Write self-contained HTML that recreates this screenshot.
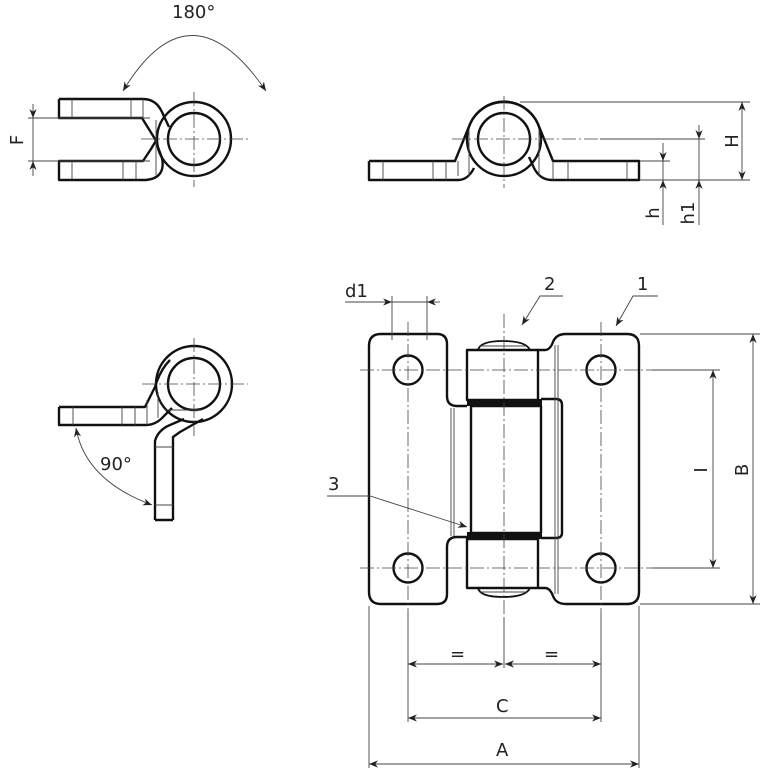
<!DOCTYPE html>
<html><head><meta charset="utf-8"><style>
html,body{margin:0;padding:0;background:#fff}
svg{display:block}
text{font-family:"DejaVu Sans","Liberation Sans",sans-serif;fill:#222}
</style></head><body>
<svg width="768" height="768" viewBox="0 0 768 768" xmlns="http://www.w3.org/2000/svg">
<defs>
<marker id="ar" viewBox="0 0 10 10" refX="10" refY="5" markerWidth="9" markerHeight="9" orient="auto-start-reverse" markerUnits="userSpaceOnUse"><path d="M0,1 L10,5 L0,9 L3,5 Z" fill="#222"/></marker>
</defs>
<g fill="none" stroke="#111" stroke-width="2.4" stroke-linejoin="round">
<!-- TOP LEFT VIEW -->
<path d="M59,99 H143 Q156,99 162,112 L169,127"/>
<path d="M59,99 V118 H142 L155,139 L162,158 Q166,178 146,180 H59 V161 H143 L151,149 L157,139"/>
<circle cx="194" cy="139" r="37"/>
<circle cx="194" cy="139" r="26"/>
<!-- TOP RIGHT VIEW -->
<path d="M369,161 H455 L470,124 A37,37 0 0 1 538,124 L553,161 H639 V180 H552 Q540,180 534,168 L529,157"/>
<path d="M369,161 V180 H458 Q468,180 474,168"/>
<circle cx="504" cy="139" r="37"/>
<circle cx="504" cy="139" r="26"/>
<!-- BOTTOM LEFT VIEW -->
<path d="M59,407 H145 L155,387 Q160,370 170,360"/>
<path d="M59,407 V425 H146 Q156,425 164,416 L172,408"/>
<path d="M155,520 V441 Q158,430 170,425 L184,419 M173,520 V437 L180,432 L203,419 M155,520 H173"/>
<circle cx="194" cy="384" r="38"/>
<circle cx="194" cy="384" r="26"/>
<!-- MAIN VIEW -->
<path d="M467,537 H457 Q447,537 447,547 V594 Q447,604 437,604 H381 Q369,604 369,592 V346 Q369,334 381,334 H437 Q447,334 447,344 V396 Q447,406 457,406 H467"/>
<path d="M538,350 H545 Q550,350 553,342 Q556,334 566,334 H627 Q639,334 639,346 V592 Q639,604 627,604 H566 Q556,604 553,596 Q550,588 545,588 H538"/>
<rect x="467" y="350" width="71" height="50"/>
<rect x="467" y="539" width="71" height="49"/>
<rect x="471" y="406" width="70" height="127"/>
<path d="M541,399 H556 Q562,399 562,405 V533 Q562,538 556,538 H541"/>
<circle cx="408" cy="370" r="14.5"/>
<circle cx="408" cy="568" r="14.5"/>
<circle cx="601" cy="370" r="14.5"/>
<circle cx="601" cy="568" r="14.5"/>
<path d="M478,350 Q480,341 503,341 Q526,341 530,350" stroke-width="1.8"/>
<path d="M478,588 Q480,597 503,597 Q526,597 530,588" stroke-width="1.8"/>
</g>
<rect x="467" y="399" width="75" height="7" fill="#111"/>
<rect x="467" y="532" width="75" height="7" fill="#111"/>
<!-- thin lines -->
<g fill="none" stroke="#444" stroke-width="0.9">
<path d="M72,99 V118 M72,161 V180 M131,99 V118 M143,118 V99 M123,161 V180 M136,161 V180 M156,120 V175"/>
<path d="M383,161 V180 M433,161 V180 M446,161 V180 M458,161 V176 M469,130 V176 M539,130 V176 M553,161 V180 M568,161 V180 M627,161 V180"/>
<path d="M73,407 V425 M122,407 V425 M135,407 V425 M147,400 V425 M158,392 V418 M155,447 H173 M155,505 H173 M165,410 H200"/>
<path d="M451,408 V536 M454,408 V536 M555,345 V594 M558,345 V594 M480,346 H526 M480,592 H526"/>
<!-- dim lines -->
<path d="M28,118 H150 M28,161 H150"/>
<path d="M33,104 V118" marker-end="url(#ar)"/>
<path d="M33,176 V161" marker-end="url(#ar)"/>
<path d="M33,118 V161"/>
<path d="M123,91 Q190,-20 266,91" marker-start="url(#ar)" marker-end="url(#ar)"/>
<path d="M520,102 H750 M600,139 H705 M640,161 H670 M640,180 H750"/>
<path d="M742,180 V102" marker-start="url(#ar)" marker-end="url(#ar)"/>
<path d="M699,125 V139" marker-end="url(#ar)"/>
<path d="M699,225 V180" marker-end="url(#ar)"/>
<path d="M663,143 V161" marker-end="url(#ar)"/>
<path d="M663,225 V180" marker-end="url(#ar)"/>
<path d="M699,139 V180 M663,161 V180"/>
<path d="M152,505 Q85,480 76,428" marker-start="url(#ar)" marker-end="url(#ar)"/>
<path d="M392,296 V340 M427,296 V340 M640,334 H760 M640,604 H760 M652,370 H720 M652,568 H720"/>
<path d="M345,302 H392" marker-end="url(#ar)"/>
<path d="M440,302 H427" marker-end="url(#ar)"/>
<path d="M392,302 H427"/>
<path d="M753,604 V334" marker-start="url(#ar)" marker-end="url(#ar)"/>
<path d="M713,568 V370" marker-start="url(#ar)" marker-end="url(#ar)"/>
<path d="M369,606 V768 M639,606 V768 M408,612 V722 M601,612 V722 M504,618 V668"/>
<path d="M408,664 H503" marker-start="url(#ar)" marker-end="url(#ar)"/>
<path d="M505,664 H601" marker-start="url(#ar)" marker-end="url(#ar)"/>
<path d="M408,718 H601" marker-start="url(#ar)" marker-end="url(#ar)"/>
<path d="M369,764 H639" marker-start="url(#ar)" marker-end="url(#ar)"/>
<path d="M563,296 H540 L522,325" marker-end="url(#ar)"/>
<path d="M658,296 H633 L616,326" marker-end="url(#ar)"/>
<path d="M327,496 H370 L467,527" marker-end="url(#ar)"/>
</g>
<!-- centerlines -->
<g fill="none" stroke="#444" stroke-width="0.8" stroke-dasharray="14,3,2,3">
<path d="M141,139 H248 M194,92 V187"/>
<path d="M452,139 H600 M504,96 V188"/>
<path d="M142,384 H248 M194,338 V436"/>
<path d="M360,370 H660 M360,568 H660 M408,322 V612 M504,314 V618 M601,322 V612"/>
</g>
<!-- labels -->
<g font-size="18">
<text x="172" y="18">180°</text>
<text x="100" y="470">90°</text>
<text x="345" y="297">d1</text>
<text x="544" y="290">2</text>
<text x="637" y="290">1</text>
<text x="328" y="490">3</text>
<text x="496" y="712">C</text>
<text x="496" y="756">A</text>
<text x="450" y="660">=</text>
<text x="544" y="660">=</text>
<text transform="translate(23,140) rotate(-90)" text-anchor="middle">F</text>
<text transform="translate(738,141) rotate(-90)" text-anchor="middle">H</text>
<text transform="translate(659,213) rotate(-90)" text-anchor="middle">h</text>
<text transform="translate(694,213) rotate(-90)" text-anchor="middle">h1</text>
<text transform="translate(748,470) rotate(-90)" text-anchor="middle">B</text>
<text transform="translate(707,470) rotate(-90)" text-anchor="middle">I</text>
</g>
</svg>
</body></html>
